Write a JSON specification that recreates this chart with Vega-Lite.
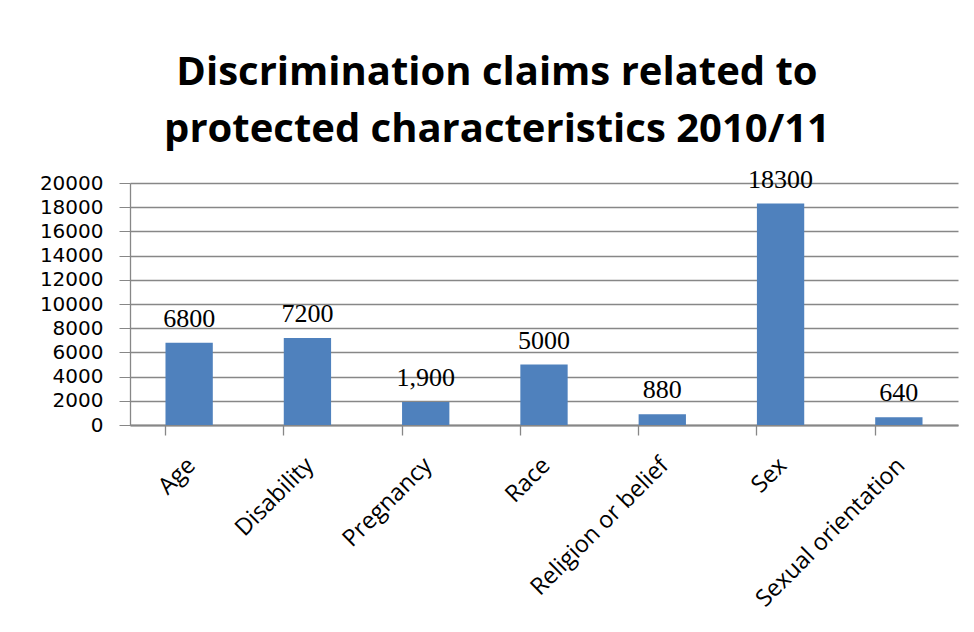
{
  "$schema": "https://vega.github.io/schema/vega-lite/v6.json",
  "autosize": "none",
  "width": 828,
  "height": 242,
  "padding": {"left": 130, "top": 183, "right": 16, "bottom": 207},
  "background": "white",
  "title": {
    "text": ["Discrimination claims related to", "protected characteristics 2010/11"],
    "font": "Open Sans",
    "fontSize": 40,
    "fontWeight": "bold",
    "color": "black",
    "anchor": "middle",
    "frame": "group",
    "dx": -47,
    "offset": 17,
    "lineHeight": 57
  },
  "data": {
    "values": [
      {"category": "Age", "claims": 6800, "label": "6800"},
      {"category": "Disability", "claims": 7200, "label": "7200"},
      {"category": "Pregnancy", "claims": 1900, "label": "1,900"},
      {"category": "Race", "claims": 5000, "label": "5000"},
      {"category": "Religion or belief", "claims": 880, "label": "880"},
      {"category": "Sex", "claims": 18300, "label": "18300"},
      {"category": "Sexual orientation", "claims": 640, "label": "640"}
    ]
  },
  "config": {
    "view": {"stroke": null},
    "axis": {
      "gridColor": "#878787",
      "domainColor": "#878787",
      "tickColor": "#878787",
      "labelColor": "black",
      "labelFont": "Open Sans",
      "labelFontSize": 23
    }
  },
  "encoding": {
    "y": {
      "field": "claims",
      "type": "quantitative",
      "scale": {"domain": [0, 20000], "nice": false},
      "axis": {
        "title": null,
        "values": [0, 2000, 4000, 6000, 8000, 10000, 12000, 14000, 16000, 18000, 20000],
        "format": "d",
        "labelOverlap": false,
        "labelFont": "DejaVu Sans",
        "labelFontSize": 20,
        "tickSize": 11,
        "labelPadding": 16,
        "gridWidth": 1.3,
        "domainWidth": 1.3
      }
    }
  },
  "resolve": {"axis": {"x": "independent"}},
  "layer": [
    {
      "mark": {"type": "bar", "color": "#4F81BD"},
      "encoding": {
        "x": {
          "field": "category",
          "type": "nominal",
          "sort": null,
          "scale": {"paddingInner": 0.6, "paddingOuter": 0.3},
          "axis": {
            "orient": "bottom",
            "title": null,
            "labelAngle": -45,
            "labelAlign": "right",
            "labelBaseline": "top",
            "labelPadding": 28,
            "labelOffset": -6,
            "labelFontSize": 23.5,
            "ticks": false,
            "domainWidth": 2,
            "labelLimit": 300
          }
        }
      }
    },
    {
      "mark": {"type": "text", "baseline": "bottom", "dy": -11, "font": "Liberation Serif", "fontSize": 26, "color": "black"},
      "encoding": {
        "x": {
          "field": "category",
          "type": "nominal",
          "sort": null,
          "axis": {
            "orient": "bottom",
            "title": null,
            "labels": false,
            "domain": false,
            "grid": false,
            "ticks": true,
            "tickSize": 10,
            "tickWidth": 1.3,
            "bandPosition": 0
          }
        },
        "text": {"field": "label"}
      }
    }
  ]
}
